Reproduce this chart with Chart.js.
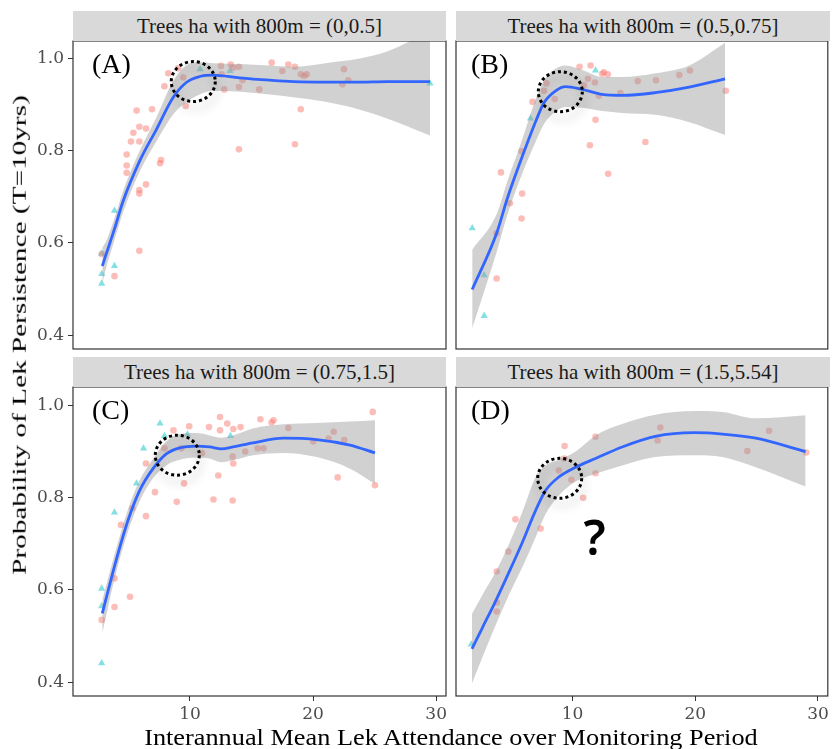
<!DOCTYPE html>
<html><head><meta charset="utf-8">
<script src="https://cdn.jsdelivr.net/npm/chart.js@4.4.1/dist/chart.umd.min.js"></script>
<style>
html,body{margin:0;padding:0;background:#fff;}
#wrap{position:relative;width:832px;height:749px;overflow:hidden;background:#fff;}
#wrap canvas{position:absolute;left:0;top:0;}
.strip{position:absolute;height:30px;line-height:30px;background:#d9d9d9;color:#1a1a1a;font-family:"Liberation Serif","Times New Roman",serif;font-size:21px;text-align:center;white-space:nowrap;}
.tag{position:absolute;font-family:"Liberation Serif","Times New Roman",serif;font-size:28px;line-height:28px;color:#000;white-space:nowrap;}
.q{position:absolute;width:60px;text-align:center;font-family:"Noto Sans",sans-serif;font-weight:600;font-size:48px;line-height:48px;color:#000;}
#xt{position:absolute;left:35px;width:832px;top:725px;text-align:center;font-family:"Liberation Serif","Times New Roman",serif;font-size:24px;line-height:24px;color:#000;white-space:nowrap;}
#xt span{display:inline-block;transform:scaleX(1.096);transform-origin:50% 50%;}
#yt{position:absolute;left:19px;top:335px;width:0;height:0;}
#yt span{position:absolute;left:0;top:0;white-space:nowrap;font-family:"Liberation Serif","Times New Roman",serif;font-size:28px;line-height:28px;color:#000;transform:translate(-50%,-50%) rotate(-90deg) scale(1.045,0.7);}
</style></head>
<body>
<div id="wrap">
<canvas id="cA" width="832" height="749"></canvas>
<canvas id="cB" width="832" height="749"></canvas>
<canvas id="cC" width="832" height="749"></canvas>
<canvas id="cD" width="832" height="749"></canvas>
</div>
<script>
// ---------- data ----------
const xTicks = [10, 20, 30];
const yTicks = [0.4, 0.6, 0.8, 1.0];
const stripLabels = ['Trees ha with 800m = (0,0.5]', 'Trees ha with 800m = (0.5,0.75]', 'Trees ha with 800m = (0.75,1.5]', 'Trees ha with 800m = (1.5,5.54]'];
const panelTags = ['(A)', '(B)', '(C)', '(D)'];
const xTitle = 'Interannual Mean Lek Attendance over Monitoring Period';
const yTitle = 'Probability of Lek Persistence (T=10yrs)';

// Panel A
const pinkAX = [8.24,9.05,7.92,9.66,5.67,6.92,5.89,6.43,5.40,5.21,5.89,4.86,4.86,4.86,7.65,7.57,6.43,5.89,5.89,5.89,2.83,3.87,12.52,13.31,13.52,13.98,14.27,13.98,12.79,15.63,16.64,17.50,17.99,18.53,19.00,19.48,19.29,22.51,22.86,22.38,19.00,13.98,18.53,9.46,12.58];
const pinkAY = [0.968,0.979,0.940,0.897,0.887,0.890,0.852,0.848,0.839,0.820,0.820,0.792,0.768,0.752,0.780,0.773,0.727,0.715,0.707,0.583,0.576,0.528,0.984,0.987,0.980,0.982,0.953,0.938,0.933,0.933,0.991,0.973,0.987,0.982,0.966,0.966,0.962,0.977,0.953,0.944,0.890,0.803,0.814,0.959,0.966];
const tealAX = [10.82,13.25,29.50,3.87,2.83,3.87,2.83,2.83];
const tealAY = [0.977,0.973,0.946,0.670,0.577,0.550,0.533,0.512];
const fitAX  = [2.88,3.21,3.89,4.56,5.92,7.27,8.62,9.70,10.79,11.87,14.04,16.48,18.40,21.00,23.81,26.00,29.50];
const fitAY  = [0.550,0.577,0.632,0.690,0.778,0.846,0.915,0.948,0.961,0.964,0.958,0.953,0.950,0.949,0.949,0.950,0.950];
const fitAHi = [0.590,0.605,0.655,0.712,0.800,0.872,0.950,0.985,0.992,0.990,0.988,0.985,0.982,0.990,1.000,1.015,1.060];
const fitALo = [0.512,0.548,0.608,0.666,0.755,0.820,0.878,0.905,0.922,0.930,0.928,0.922,0.916,0.906,0.889,0.870,0.833];

// Panel B
const pinkBX = [10.57,11.47,12.55,12.87,12.42,11.25,11.82,10.92,15.31,13.90,12.14,7.87,8.54,7.67,6.73,11.87,11.41,15.93,12.90,5.84,4.16,5.89,4.89,5.84,3.81,3.81,16.80,18.70,19.56,22.49];
const pinkBY = [0.982,0.985,0.970,0.966,0.967,0.956,0.948,0.942,0.951,0.925,0.919,0.946,0.912,0.930,0.906,0.867,0.812,0.819,0.750,0.799,0.753,0.707,0.686,0.653,0.621,0.523,0.953,0.964,0.974,0.930];
const tealBX = [11.87,6.57,1.82,2.80,2.80];
const tealBY = [0.974,0.870,0.632,0.530,0.442];
const fitBX  = [1.82,3.81,4.70,5.92,7.00,7.67,8.62,9.44,10.79,12.42,14.04,16.75,19.51,22.43];
const fitBY  = [0.499,0.621,0.698,0.789,0.864,0.904,0.930,0.939,0.933,0.922,0.920,0.926,0.938,0.956];
const fitBHi = [0.585,0.662,0.735,0.826,0.912,0.952,0.978,0.985,0.975,0.960,0.960,0.968,0.985,1.034];
const fitBLo = [0.415,0.580,0.662,0.752,0.820,0.858,0.885,0.895,0.893,0.886,0.882,0.878,0.862,0.834];

// Panel C
const pinkCX = [12.44,11.55,12.44,13.03,13.52,14.11,9.94,8.66,15.72,16.79,16.63,17.99,14.49,15.49,15.98,13.47,13.52,12.30,10.98,9.52,8.93,11.91,13.47,7.16,6.43,6.43,5.32,4.40,3.87,5.13,3.87,2.83,24.85,25.03,22.00,21.68,21.26,22.53,20.02,7.93,9.30];
const pinkCY = [0.975,0.953,0.946,0.961,0.949,0.953,0.955,0.946,0.970,0.968,0.963,0.951,0.900,0.907,0.907,0.889,0.874,0.848,0.897,0.831,0.791,0.796,0.794,0.812,0.874,0.760,0.777,0.741,0.625,0.585,0.563,0.535,0.986,0.827,0.844,0.943,0.928,0.925,0.922,0.907,0.907];
const tealCX = [7.57,6.23,5.66,3.87,2.83,2.83,2.83,7.93,9.80,13.29];
const tealCY = [0.961,0.907,0.831,0.768,0.603,0.565,0.441,0.934,0.937,0.934];
const fitCX  = [2.88,3.91,4.97,5.92,7.00,8.08,9.17,10.52,11.60,12.55,13.50,15.12,17.58,20.30,23.00,25.03];
const fitCY  = [0.549,0.655,0.751,0.816,0.863,0.895,0.908,0.912,0.910,0.906,0.910,0.919,0.929,0.926,0.914,0.897];
const fitCHi = [0.578,0.680,0.775,0.838,0.884,0.922,0.938,0.940,0.935,0.930,0.935,0.950,0.959,0.962,0.965,0.968];
const fitCLo = [0.506,0.628,0.727,0.793,0.842,0.870,0.882,0.887,0.885,0.877,0.881,0.892,0.897,0.888,0.863,0.830];

// Panel D
const pinkDX = [17.15,16.93,26.01,24.24,29.04,11.87,9.35,9.32,8.88,9.90,11.87,10.86,5.34,7.40,4.76,3.82,3.82,3.82];
const pinkDY = [0.952,0.924,0.945,0.901,0.898,0.932,0.912,0.885,0.859,0.839,0.853,0.800,0.753,0.733,0.683,0.640,0.573,0.553];
const tealDX = [1.74];
const tealDY = [0.482];
const fitDX  = [1.80,2.67,3.75,4.83,5.92,7.00,7.81,8.89,10.25,11.87,14.04,16.75,19.91,22.21,24.93,28.99];
const fitDY  = [0.472,0.519,0.577,0.639,0.704,0.773,0.816,0.845,0.866,0.885,0.910,0.933,0.941,0.938,0.929,0.900];
const fitDHi = [0.548,0.590,0.640,0.700,0.770,0.845,0.870,0.882,0.900,0.935,0.960,0.980,0.988,0.986,0.972,0.979];
const fitDLo = [0.397,0.455,0.525,0.590,0.650,0.715,0.765,0.805,0.835,0.852,0.870,0.888,0.892,0.888,0.866,0.824];

// highlighted (dashed circle) locations, in data units
const circleX = [10.27, 9.00, 8.97, 8.95];
const circleY = [0.950, 0.928, 0.892, 0.842];

// ---------- drawing ----------
const W = 832, H = 749;
const boxes = [
  {l:73,  t:41,  r:446, b:349, showX:false, showY:true},
  {l:456, t:41,  r:830, b:349, showX:false, showY:false},
  {l:73,  t:387, r:446, b:696, showX:true,  showY:true},
  {l:456, t:387, r:830, b:696, showX:true,  showY:false}
];
const series = [
  [pinkAX,pinkAY,tealAX,tealAY,fitAX,fitAY,fitAHi,fitALo],
  [pinkBX,pinkBY,tealBX,tealBY,fitBX,fitBY,fitBHi,fitBLo],
  [pinkCX,pinkCY,tealCX,tealCY,fitCX,fitCY,fitCHi,fitCLo],
  [pinkDX,pinkDY,tealDX,tealDY,fitDX,fitDY,fitDHi,fitDLo]
];
const Y_AXIS_W = 40, X_AXIS_H = 30;

function pts(xs, ys){ return xs.map((v,i)=>({x:v, y:ys[i]})); }

const deco = {
  id: 'deco',
  afterDraw(chart, args, opts){
    const {ctx, chartArea:a, scales} = chart;
    const cx = scales.x.getPixelForValue(opts.cx);
    const cy = scales.y.getPixelForValue(opts.cy);
    ctx.save();
    ctx.shadowColor = 'rgba(0,0,0,0.30)';
    ctx.shadowBlur = 10; ctx.shadowOffsetX = 2; ctx.shadowOffsetY = 7;
    ctx.setLineDash([3,3]); ctx.lineWidth = 3; ctx.strokeStyle = '#000';
    ctx.beginPath(); ctx.ellipse(cx, cy, 22, 20, 0, 0, Math.PI*2); ctx.stroke();
    ctx.restore();
    ctx.save();
    ctx.strokeStyle = '#333'; ctx.lineWidth = 1.2;
    ctx.strokeRect(a.left, a.top, a.right - a.left, a.bottom - a.top);
    ctx.restore();
  }
};

const tickFont = {family:'DejaVu Serif', size:17};
['cA','cB','cC','cD'].forEach((id, k) => {
  const b = boxes[k], s = series[k];
  const padL = b.showY ? b.l - Y_AXIS_W : b.l;
  const padB = b.showX ? H - b.b - X_AXIS_H : H - b.b;
  new Chart(document.getElementById(id), {
    type: 'scatter',
    data: { datasets: [
      {type:'line', data:pts(s[4], s[5]), borderColor:'#3366FF', borderWidth:2.8, pointRadius:0, fill:false, cubicInterpolationMode:'monotone', order:0},
      {type:'line', data:pts(s[4], s[6]), borderWidth:0, borderColor:'rgba(0,0,0,0)', pointRadius:0, backgroundColor:'rgba(153,153,153,0.45)', fill:'+1', cubicInterpolationMode:'monotone', order:1},
      {type:'line', data:pts(s[4], s[7]), borderWidth:0, borderColor:'rgba(0,0,0,0)', pointRadius:0, fill:false, cubicInterpolationMode:'monotone', order:2},
      {data:pts(s[0], s[1]), pointStyle:'circle', pointRadius:3.3, backgroundColor:'rgba(248,118,109,0.48)', borderWidth:0, order:3},
      {data:pts(s[2], s[3]), pointStyle:'triangle', pointRadius:4.2, backgroundColor:'rgba(0,191,196,0.48)', borderWidth:0, order:4}
    ]},
    options: {
      responsive:false, animation:false, events:[], devicePixelRatio:1,
      layout:{padding:{left:padL, top:b.t, right:W - b.r, bottom:padB}},
      plugins:{legend:{display:false}, tooltip:{enabled:false}, deco:{cx:circleX[k], cy:circleY[k]}},
      scales:{
        x:{type:'linear', min:0.5, max:30.8, display:b.showX,
           afterBuildTicks:sc=>{sc.ticks = xTicks.map(v=>({value:v}));},
           afterFit:sc=>{sc.height = b.showX ? X_AXIS_H : 0;},
           grid:{drawOnChartArea:false, tickLength:5, color:'#333', lineWidth:1},
           border:{display:false},
           ticks:{font:tickFont, color:'#4d4d4d', padding:3, maxRotation:0, callback:v=>String(v)}},
        y:{type:'linear', min:0.37, max:(k<2?1.038:1.040), display:b.showY,
           afterBuildTicks:sc=>{sc.ticks = yTicks.map(v=>({value:v}));},
           afterFit:sc=>{sc.width = b.showY ? Y_AXIS_W : 0;},
           grid:{drawOnChartArea:false, tickLength:5, color:'#333', lineWidth:1},
           border:{display:false},
           ticks:{font:tickFont, color:'#4d4d4d', padding:4, callback:v=>Number(v).toFixed(1)}}
      }
    },
    plugins:[deco]
  });
});

// ---------- text overlays ----------
const wrap = document.getElementById('wrap');
function add(cls, text, css){ const d = document.createElement('div'); d.className = cls; d.textContent = text; Object.assign(d.style, css); wrap.appendChild(d); return d; }
boxes.forEach((b,k) => {
  add('strip', stripLabels[k], {left:b.l+'px', top:(b.t-30)+'px', width:(b.r-b.l)+'px'});
  add('tag', panelTags[k], {left:(b.l+(k%2?15:19))+'px', top:(b.t+(k<2?8.5:9))+'px'});
});
add('q', '?', {left:'564.7px', top:'512.5px'});
const xt = document.createElement('div'); xt.id = 'xt'; const xs = document.createElement('span'); xs.textContent = xTitle; xt.appendChild(xs); wrap.appendChild(xt);
const yt = document.createElement('div'); yt.id = 'yt'; const ys = document.createElement('span'); ys.textContent = yTitle; yt.appendChild(ys); wrap.appendChild(yt);
</script>
</body></html>
